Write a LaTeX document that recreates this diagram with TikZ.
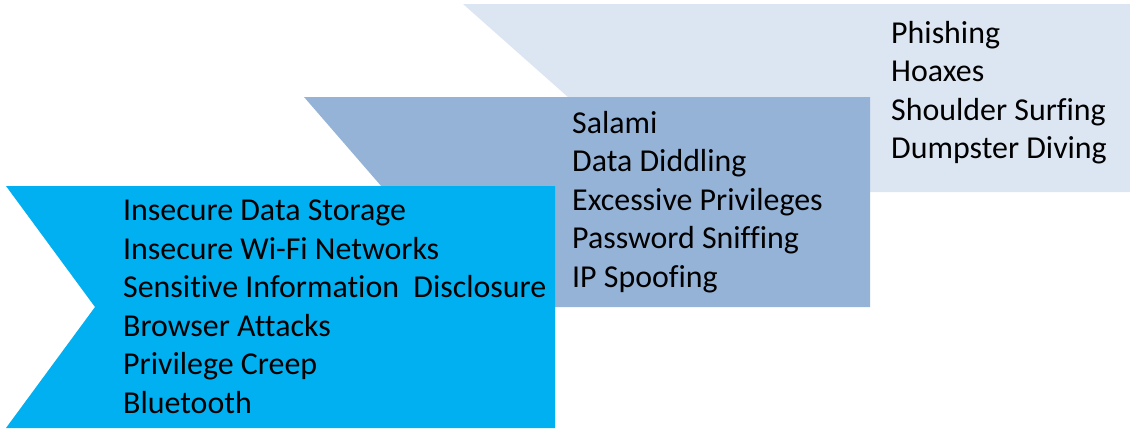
\documentclass[tikz,border=0pt]{standalone}
\usepackage{fontspec}
\setmainfont{Carlito}[Ligatures=NoCommon]
\usetikzlibrary{positioning}

\begin{document}
\begin{tikzpicture}[
                x=1pt, y=-1pt,
                every node/.style={font=\fontsize{31.9}{38.5}\selectfont},
                itemlist/.style={align=left, anchor=north west, inner sep=0pt, text=black},
                backband/.style={fill={rgb,255:red,220;green,230;blue,242}},
                midband/.style={fill={rgb,255:red,149;green,179;blue,215}},
                frontband/.style={fill={rgb,255:red,0;green,176;blue,240}}
            ]
                \useasboundingbox (0,0) rectangle (1130,429);

                % Bands
                \fill [backband] (463,4) -- (1130,4) -- (1130,192) -- (463,192) -- (569,98) -- cycle;
                \fill [midband] (304,97) -- (870,97) -- (870,307) -- (304,307) -- (395,202) -- cycle;
                \fill [frontband] (6,186) -- (555,186) -- (555,428) -- (6,428) -- (95,307) -- cycle;

                % Nodes
                \node (social) [itemlist] at (891,21) {Phishing\\Hoaxes\\Shoulder Surfing\\Dumpster Diving};
                \node (insider) [itemlist] at (572,111) {Salami\\Data Diddling\\Excessive Privileges\\Password Sniffing\\IP Spoofing};
                \node (mobile) [itemlist] at (123,200) {Insecure Data Storage\\Insecure Wi-Fi Networks\\Sensitive Information\ \ Disclosure\\Browser Attacks\\Privilege Creep\\Bluetooth};

            \end{tikzpicture}
\end{document}
